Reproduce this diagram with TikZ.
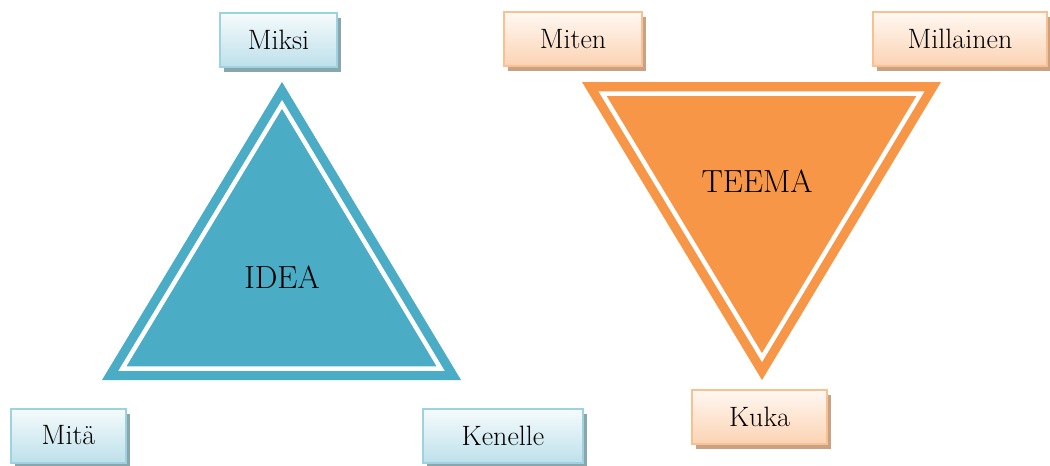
\documentclass[tikz,border=0pt]{standalone}
\usepackage{fontspec}
\usetikzlibrary{shadows}
\definecolor{tealfill}{HTML}{4BACC6}
\definecolor{orangefill}{HTML}{F79646}
\definecolor{blueedge}{HTML}{9DD3E0}
\definecolor{bluetop}{HTML}{F6FBFC}
\definecolor{bluebottom}{HTML}{BDE0EA}
\definecolor{blueshadow}{HTML}{8AA6AD}
\definecolor{orangeedge}{HTML}{F9C092}
\definecolor{orangetop}{HTML}{FFF8F2}
\definecolor{orangebottom}{HTML}{FBD3B4}
\definecolor{orangeshadow}{HTML}{C9A283}
\tikzset{
  labelbox/.style={line width=2pt, minimum height=54pt, inner sep=0pt,
    font=\fontsize{28}{32}\selectfont},
  bluebox/.style={labelbox, draw=blueedge, top color=bluetop, bottom color=bluebottom,
    drop shadow={shadow xshift=4pt, shadow yshift=-5pt, fill=blueshadow, opacity=1}},
  orangebox/.style={labelbox, draw=orangeedge, top color=orangetop, bottom color=orangebottom,
    drop shadow={shadow xshift=4pt, shadow yshift=-5pt, fill=orangeshadow, opacity=1}},
  rim/.style={draw=white, line width=4.5pt, miter limit=20},
  bigtext/.style={font=\fontsize{32}{36}\selectfont, inner sep=0pt}
}
\begin{document}
\begin{tikzpicture}[x=1pt,y=-1pt]
\useasboundingbox (0,0) rectangle (1050,466);

% IDEA triangle
\fill[tealfill] (102,380) -- (282,82) -- (461,380) -- cycle;
\filldraw[rim, fill=tealfill] (122.4,368.5) -- (282,104.3) -- (440.6,368.5) -- cycle;
\node[bigtext] (idea) at (282,277) {IDEA};

% TEEMA triangle
\fill[orangefill] (582,82) -- (941,82) -- (762,380) -- cycle;
\filldraw[rim, fill=orangefill] (602.4,93.5) -- (920.6,93.5) -- (762,357.7) -- cycle;
\node[bigtext] (teema) at (757,181) {TEEMA};

% label boxes
\node[bluebox, minimum width=117pt] (miksi) at (278.5,40) {Miksi};
\node[bluebox, minimum width=115pt] (mita) at (68.5,435.5) {Mitä};
\node[bluebox, minimum width=160pt] (kenelle) at (503,436) {Kenelle};
\node[orangebox, minimum width=138pt] (miten) at (573,39) {Miten};
\node[orangebox, minimum width=174pt] (millainen) at (960,39) {Millainen};
\node[orangebox, minimum width=135pt] (kuka) at (759.5,416.5) {Kuka};
\end{tikzpicture}
\end{document}
